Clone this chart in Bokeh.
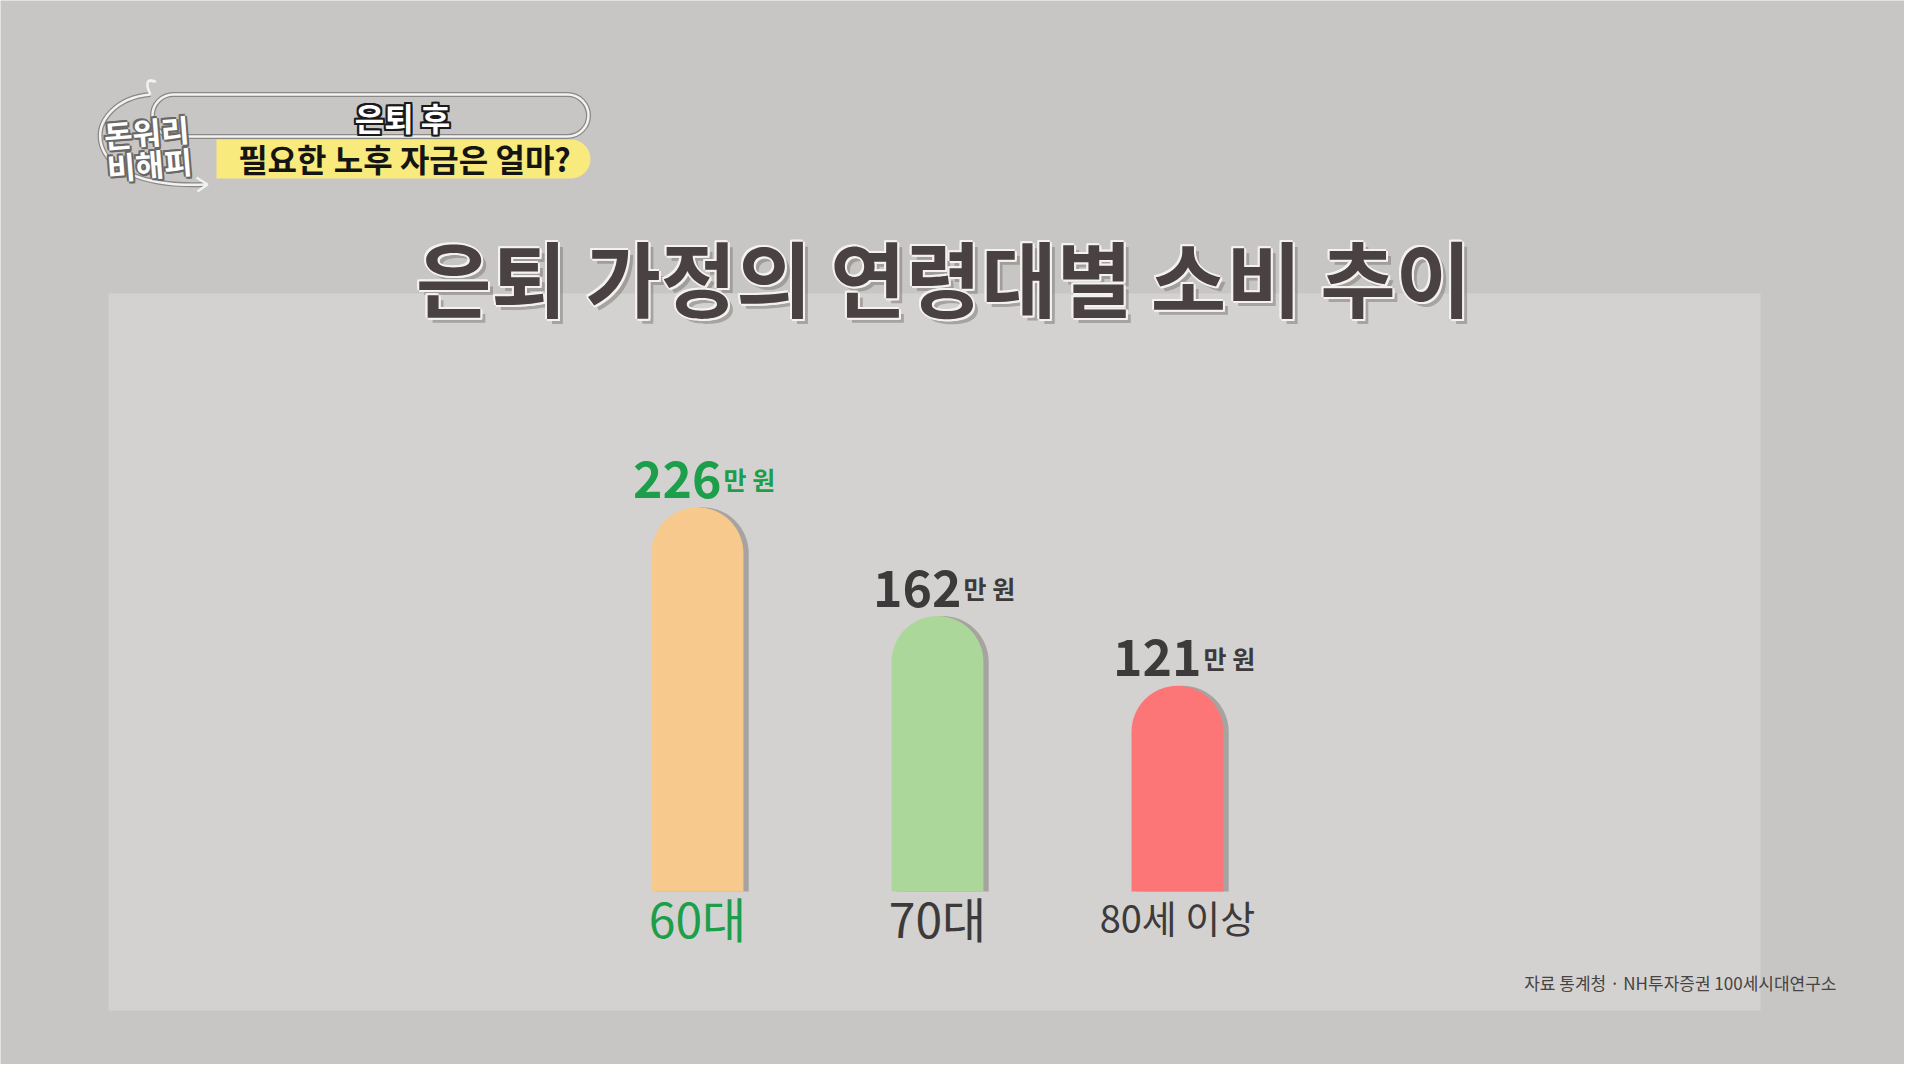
from bokeh.plotting import figure
from bokeh.models import Range1d, ColumnDataSource
from bokeh.core.properties import value
from bokeh.embed import file_html
from bokeh.resources import INLINE

# ---- data ----
categories = ["60대", "70대", "80세 이상"]
spending = [226, 162, 121]          # 만 원 (monthly consumption)
unit_label = "만 원"
title_text = "은퇴 가정의 연령대별 소비 추이"
source_text = "자료 통계청 · NH투자증권 100세시대연구소"
badge_top = "은퇴 후"
badge_bottom = "필요한 노후 자금은 얼마?"
logo_lines = ["돈워리", "비해피"]

# ---- styles ----
bar_colors = ["#f8c98c", "#acd79b", "#fd7677"]
label_colors = ["#1c9e4b", "#3c3a3a", "#3c3a3a"]
cat_sizes = ["48px", "48px", "38px"]
FONT = "Noto Sans CJK KR"
W, H = 1904, 1064

p = figure(width=W, height=H, output_backend="svg", toolbar_location=None,
           x_range=Range1d(-2.904, -2.904 + W / 240.0),
           y_range=Range1d(-101.76, -101.76 + H / 1.70),
           min_border=0, outline_line_color=None)
p.axis.visible = False
p.grid.visible = False
p.background_fill_color = "#c8c6c4"
p.border_fill_color = "#c8c6c4"
p.extra_x_ranges["px"] = Range1d(0, W)
p.extra_y_ranges["px"] = Range1d(H, 0)

PX = dict(x_range_name="px", y_range_name="px")

# inner lighter panel
p.quad(left=[108], right=[1760], top=[293], bottom=[1010],
       fill_color="#d4d2d0", line_color=None, **PX)

# ---- bars ----
idx = list(range(len(categories)))
src = ColumnDataSource(dict(x=idx, xs=[i + 0.022 for i in idx], top=spending,
                            color=bar_colors, lcolor=label_colors,
                            num=[str(v) for v in spending],
                            unit=[unit_label] * len(idx),
                            cat=categories, csize=cat_sizes,
                            cy=[916] * len(idx)))
# shadow
p.vbar(x="xs", top="top", bottom=0, width=0.383, source=src,
       fill_color="#6f6a66", fill_alpha=0.45, line_color=None,
       border_radius=[46, 46, 0, 0])
p.vbar(x="x", top="top", bottom=0, width=0.383, source=src,
       fill_color="color", line_color=None,
       border_radius=[46, 46, 0, 0])

# value labels
p.text(x="x", y="top", text="num", source=src, x_offset=24, y_offset=-28,
       text_align="right", text_baseline="alphabetic",
       text_color="lcolor", text_font=value(FONT), text_font_style="bold",
       text_font_size="50px")
p.text(x="x", y="top", text="unit", source=src, x_offset=26, y_offset=-28,
       text_align="left", text_baseline="alphabetic",
       text_color="lcolor", text_font=value(FONT), text_font_style="bold",
       text_font_size="25px")

# category labels
p.text(x="x", y="cy", text="cat", source=src, y_range_name="px",
       text_align="center", text_baseline="middle",
       text_color="lcolor", text_font=value(FONT),
       text_font_size="csize")

# ---- title ----
tx, ty = 943, 275
for dx, dy, col, a in [(5, 5, "#6e6a68", 0.45),
                       (-2, 0, "#f4f2f0", 1), (2, 0, "#f4f2f0", 1),
                       (0, -2, "#f4f2f0", 1), (0, 2, "#f4f2f0", 1),
                       (2, 2, "#f4f2f0", 1), (-2, -2, "#f4f2f0", 1)]:
    p.text(x=[tx + dx], y=[ty + dy], text=[title_text], text_align="center",
           text_baseline="middle", text_color=col, text_alpha=a,
           text_font=value(FONT), text_font_style="bold",
           text_font_size="82px", **PX)
p.text(x=[tx], y=[ty], text=[title_text], text_align="center",
       text_baseline="middle", text_color="#4a4242",
       text_font=value(FONT), text_font_style="bold",
       text_font_size="82px", **PX)

# ---- source ----
p.text(x=[1836], y=[982], text=[source_text], text_align="right",
       text_baseline="middle", text_color="#454343",
       text_font=value(FONT), text_font_size="17px", **PX)

# ---- top-left badge ----
p.quad(left=[152], right=[588], top=[94], bottom=[136], fill_color=None,
       line_color="#8a8886", line_width=5, border_radius=21, **PX)
p.quad(left=[152], right=[588], top=[94], bottom=[136], fill_color=None,
       line_color="#f2f2f2", line_width=2.5, border_radius=21, **PX)
p.quad(left=[216], right=[590], top=[139], bottom=[178], fill_color="#f8ea7c",
       line_color=None, border_radius=[0, 20, 20, 0], **PX)
for dx, dy in [(-2, 0), (2, 0), (0, -2), (0, 2), (2, 2), (-2, -2), (2, -2), (-2, 2)]:
    p.text(x=[402 + dx], y=[116 + dy], text=[badge_top], text_align="center",
           text_baseline="middle", text_color="#1a1a1a",
           text_font=value(FONT), text_font_style="bold",
           text_font_size="32px", **PX)
p.text(x=[402], y=[116], text=[badge_top], text_align="center",
       text_baseline="middle", text_color="#ffffff",
       text_font=value(FONT), text_font_style="bold",
       text_font_size="32px", **PX)
p.text(x=[404], y=[157], text=[badge_bottom], text_align="center",
       text_baseline="middle", text_color="#141414",
       text_font=value(FONT), text_font_style="bold",
       text_font_size="32px", **PX)

# logo curve + arrow
p.bezier(x0=[150], y0=[94], x1=[205], y1=[184], cx0=[80], cy0=[100],
         cx1=[70], cy1=[190], line_color="#8a8886", line_width=5, **PX)
p.bezier(x0=[150], y0=[94], x1=[205], y1=[184], cx0=[80], cy0=[100],
         cx1=[70], cy1=[190], line_color="#f2f2f2", line_width=2.5, **PX)
p.line(x=[196, 207, 197], y=[177, 184, 191], line_color="#f2f2f2",
       line_width=2.5, **PX)
p.bezier(x0=[150], y0=[94], x1=[150], y1=[80], cx0=[138], cy0=[70],
         cx1=[165], cy1=[85], line_color="#f2f2f2", line_width=2.5, **PX)
for k, (txt, cx, cy) in enumerate(zip(logo_lines, [146, 149], [131, 163])):
    for dx, dy in [(-2, 0), (2, 0), (0, -2), (0, 2), (2, 2), (-2, -2)]:
        p.text(x=[cx + dx], y=[cy + dy], text=[txt], text_align="center",
               text_baseline="middle", text_color="#6a6866", angle=0.08,
               text_font=value(FONT), text_font_style="bold",
               text_font_size="31px", **PX)
    p.text(x=[cx], y=[cy], text=[txt], text_align="center",
           text_baseline="middle", text_color="#ffffff", angle=0.08,
           text_font=value(FONT), text_font_style="bold",
           text_font_size="31px", **PX)

open("out.html", "w").write(file_html(p, INLINE))
